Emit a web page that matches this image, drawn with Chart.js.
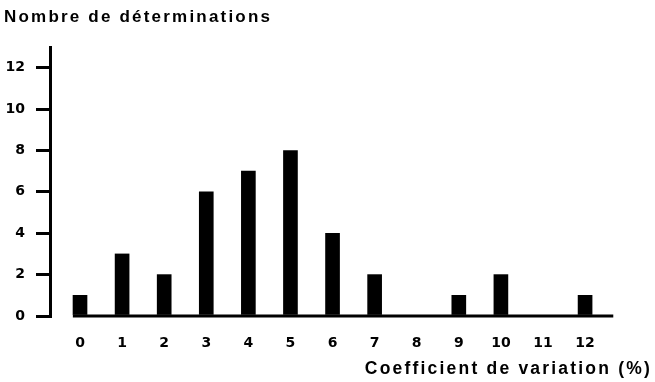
<!DOCTYPE html>
<html>
<head>
<meta charset="utf-8">
<script src="https://cdn.jsdelivr.net/npm/chart.js@4"></script>
<style>
html,body{margin:0;padding:0;background:#fff;}
canvas{display:block;}
</style>
</head>
<body>
<canvas id="c" width="655" height="382"></canvas>
<script>
const categories = [0, 1, 2, 3, 4, 5, 6, 7, 8, 9, 10, 11, 12];
const counts = [1, 3, 2, 6, 7, 8, 4, 2, 0, 1, 2, 0, 1];
const yTicks = [0, 2, 4, 6, 8, 10, 12];
const yTitle = 'Nombre de déterminations';
const xTitle = 'Coefficient de variation (%)';
const baselineRange = [-0.17, 12.67];

const TFONT = '"Liberation Sans", Arial, sans-serif';
const DFONT = '"DejaVu Sans", "Liberation Sans", sans-serif';

function withSpacing(obj, name, ls) {
  const orig = obj[name];
  if (!orig || orig.__wrapped) return;
  const w = function () {
    const ctx = this.ctx || (this.chart && this.chart.ctx);
    const prev = ctx.letterSpacing;
    ctx.letterSpacing = ls;
    const r = orig.apply(this, arguments);
    ctx.letterSpacing = prev;
    return r;
  };
  w.__wrapped = true;
  obj[name] = w;
}

const spacing = {
  id: 'spacing',
  afterLayout(c) {
    c.boxes.forEach(b => {
      if (b.id === 'x' || b.id === 'y') {
        withSpacing(b, 'drawTitle', '2.2px');
        withSpacing(b, 'drawLabels', '0px');
      } else if (b.options && b.options.text === yTitle) {
        withSpacing(b, 'draw', '2.2px');
      }
    });
  }
};

new Chart(document.getElementById('c'), {
  type: 'bar',
  data: {
    datasets: [{
      type: 'bar',
      data: categories.map((x, i) => ({ x: x, y: counts[i] })),
      backgroundColor: '#000',
      barThickness: 14
    }, {
      type: 'line',
      data: baselineRange.map(x => ({ x: x, y: 0 })),
      borderColor: '#000',
      borderWidth: 3,
      pointRadius: 0,
      clip: false
    }]
  },
  plugins: [spacing],
  options: {
    responsive: false,
    animation: false,
    devicePixelRatio: 1,
    layout: { padding: { left: 4, right: 3, top: 0, bottom: 0 } },
    plugins: {
      legend: { display: false },
      tooltip: { enabled: false },
      title: {
        display: true,
        text: yTitle,
        align: 'start',
        color: '#000',
        font: { family: TFONT, size: 17, weight: 'bold' },
        padding: { top: 7, bottom: 19.6 }
      }
    },
    scales: {
      x: {
        type: 'linear',
        offset: false,
        min: -0.713,
        max: 13.59,
        afterBuildTicks(s) { s.ticks = categories.map(v => ({ value: v })); },
        afterFit(s) { s.height = 66; },
        grid: { display: false, drawTicks: false, offset: false },
        border: { display: false },
        ticks: {
          color: '#000',
          padding: 19,
          maxRotation: 0,
          autoSkip: false,
          font: { family: DFONT, size: 14, weight: 'bold' }
        },
        title: {
          display: true,
          text: xTitle,
          align: 'end',
          color: '#000',
          font: { family: TFONT, size: 17.5, weight: 'bold' },
          padding: { top: 0, bottom: 2.5 }
        }
      },
      y: {
        min: 0,
        max: 13,
        afterBuildTicks(s) { s.ticks = yTicks.map(v => ({ value: v })); },
        afterFit(s) { s.width = 46; },
        grid: {
          display: true,
          drawOnChartArea: false,
          drawTicks: true,
          tickLength: 14,
          lineWidth: 3,
          color: '#000'
        },
        border: { display: true, color: '#000', width: 3 },
        ticks: {
          color: '#000',
          padding: 11,
          font: { family: DFONT, size: 14, weight: 'bold' }
        }
      }
    }
  }
});
</script>
</body>
</html>
